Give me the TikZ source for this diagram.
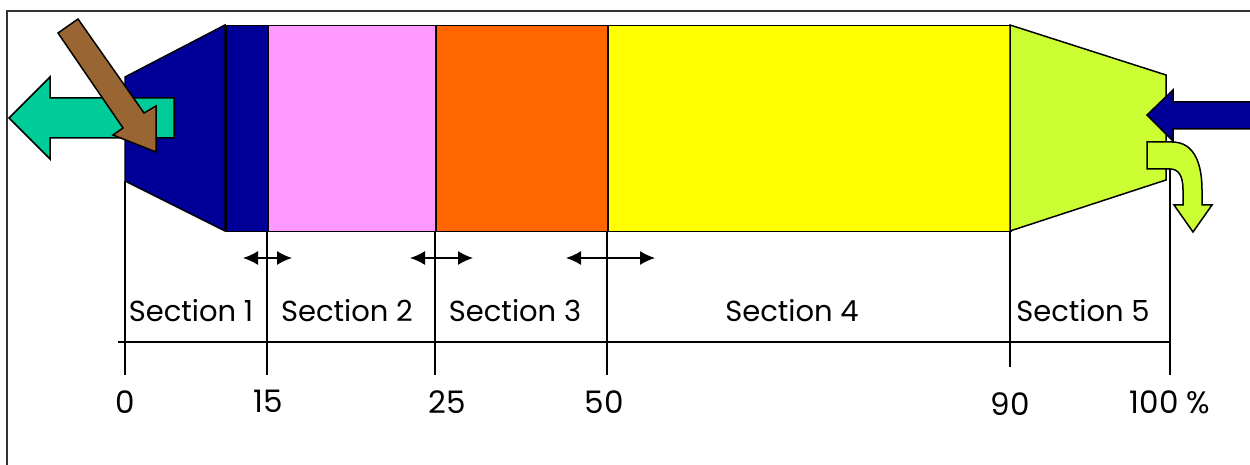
\documentclass[tikz,border=0pt]{standalone}
\usepackage{fontspec}
\setmainfont{Poppins}
\usetikzlibrary{arrows.meta}
\definecolor{navy}{HTML}{000099}
\definecolor{pinkc}{HTML}{FF99FF}
\definecolor{orangec}{HTML}{FF6600}
\definecolor{yellowc}{HTML}{FFFF00}
\definecolor{limec}{HTML}{CCFF33}
\definecolor{tealc}{HTML}{00CC99}
\definecolor{brownc}{HTML}{996633}
\begin{document}
\begin{tikzpicture}[x=1pt,y=-1pt,
  outline/.style={draw=black, line width=1.5pt, line join=miter},
  secbox/.style={outline, minimum height=206pt, inner sep=0pt, anchor=north west},
  lbl/.style={font=\fontsize{29}{34}\selectfont, anchor=base, inner sep=0pt},
  numlbl/.style={font=\fontsize{31}{36}\selectfont, anchor=base, inner sep=0pt},
  guide/.style={line width=1.3pt},
  dbl/.style={line width=1.5pt, {Latex[length=15pt,width=14pt]}-{Latex[length=15pt,width=14pt]}}]
\useasboundingbox (0,0) rectangle (1250,465);
\clip (0,0) rectangle (1250,465);
% frame
\draw[line width=1.5pt, black!80] (7,480) -- (7,11) -- (1265,11);
% body
\filldraw[outline, fill=navy] (125,77) -- (225,25) -- (225,231) -- (125,181) -- cycle;
\node[secbox, fill=navy, minimum width=42pt] (s1) at (225,25) {};
\node[secbox, fill=pinkc, minimum width=168pt] (s2) at (267,25) {};
\node[secbox, fill=orangec, minimum width=172pt] (s3) at (435,25) {};
\node[secbox, fill=yellowc, minimum width=403pt] (s4) at (607,25) {};
\filldraw[outline, fill=limec] (1010,25) -- (1166,75) -- (1166,180) -- (1010,231) -- cycle;
% guide coordinates
\coordinate (t0) at (125,181); \coordinate (b0) at (125,375);
\coordinate (t15) at (267,231); \coordinate (b15) at (267,375);
\coordinate (t25) at (435,231); \coordinate (b25) at (435,375);
\coordinate (t50) at (607,231); \coordinate (b50) at (607,375);
\coordinate (t90) at (1010,231); \coordinate (b90) at (1010,367);
\coordinate (t100) at (1170,169); \coordinate (b100) at (1170,375);
\coordinate (axL) at (118,342); \coordinate (axR) at (1170,342);
\draw[guide] (t0) -- (b0);
\draw[guide] (t15) -- (b15);
\draw[guide] (t25) -- (b25);
\draw[guide] (t50) -- (b50);
\draw[guide] (t90) -- (b90);
\draw[guide] (t100) -- (b100);
\draw[guide] (axL) -- (axR);
% double arrows
\coordinate (d1a) at (243,258); \coordinate (d1b) at (292,258);
\coordinate (d2a) at (410,258); \coordinate (d2b) at (473,258);
\coordinate (d3a) at (566,258); \coordinate (d3b) at (655,258);
\draw[dbl] (d1a) -- (d1b);
\draw[dbl] (d2a) -- (d2b);
\draw[dbl] (d3a) -- (d3b);
% teal arrow
\filldraw[outline, fill=tealc] (9,118) -- (50,77) -- (50,98) -- (174,98) -- (174,138) -- (50,138) -- (50,159) -- cycle;
% brown arrow
\filldraw[outline, fill=brownc] (58,33) -- (78,19) -- (144,113) -- (156,106) -- (156,152) -- (113,135) -- (123,128) -- cycle;
% dark blue arrow
\filldraw[outline, fill=navy] (1147,115) -- (1173,90) -- (1173,102) -- (1262,102) -- (1262,129) -- (1173,129) -- (1173,141) -- cycle;
% bent arrow
\filldraw[outline, fill=limec] (1147,142) -- (1172,142) .. controls (1195,142) and (1202,165) .. (1202,190) -- (1202,205) -- (1212,205) -- (1193,232) -- (1174,205) -- (1183,205) -- (1183,190) .. controls (1183,175) and (1178,169) .. (1170,169) -- (1147,169) -- cycle;
% section labels
\node[lbl] (l1) at (191,321) {Section 1};
\node[lbl] (l2) at (347,321) {Section 2};
\node[lbl] (l3) at (515,321) {Section 3};
\node[lbl] (l4) at (792,321) {Section 4};
\node[lbl] (l5) at (1083,321) {Section 5};
% numbers
\node[numlbl] (n0) at (125,413) {0};
\node[numlbl] (n15) at (268,412) {15};
\node[numlbl] (n25) at (447,413) {25};
\node[numlbl] (n50) at (604,413) {50};
\node[numlbl] (n90) at (1010,415) {90};
\node[numlbl] (n100) at (1170,413) {100 \%};
\end{tikzpicture}
\end{document}
